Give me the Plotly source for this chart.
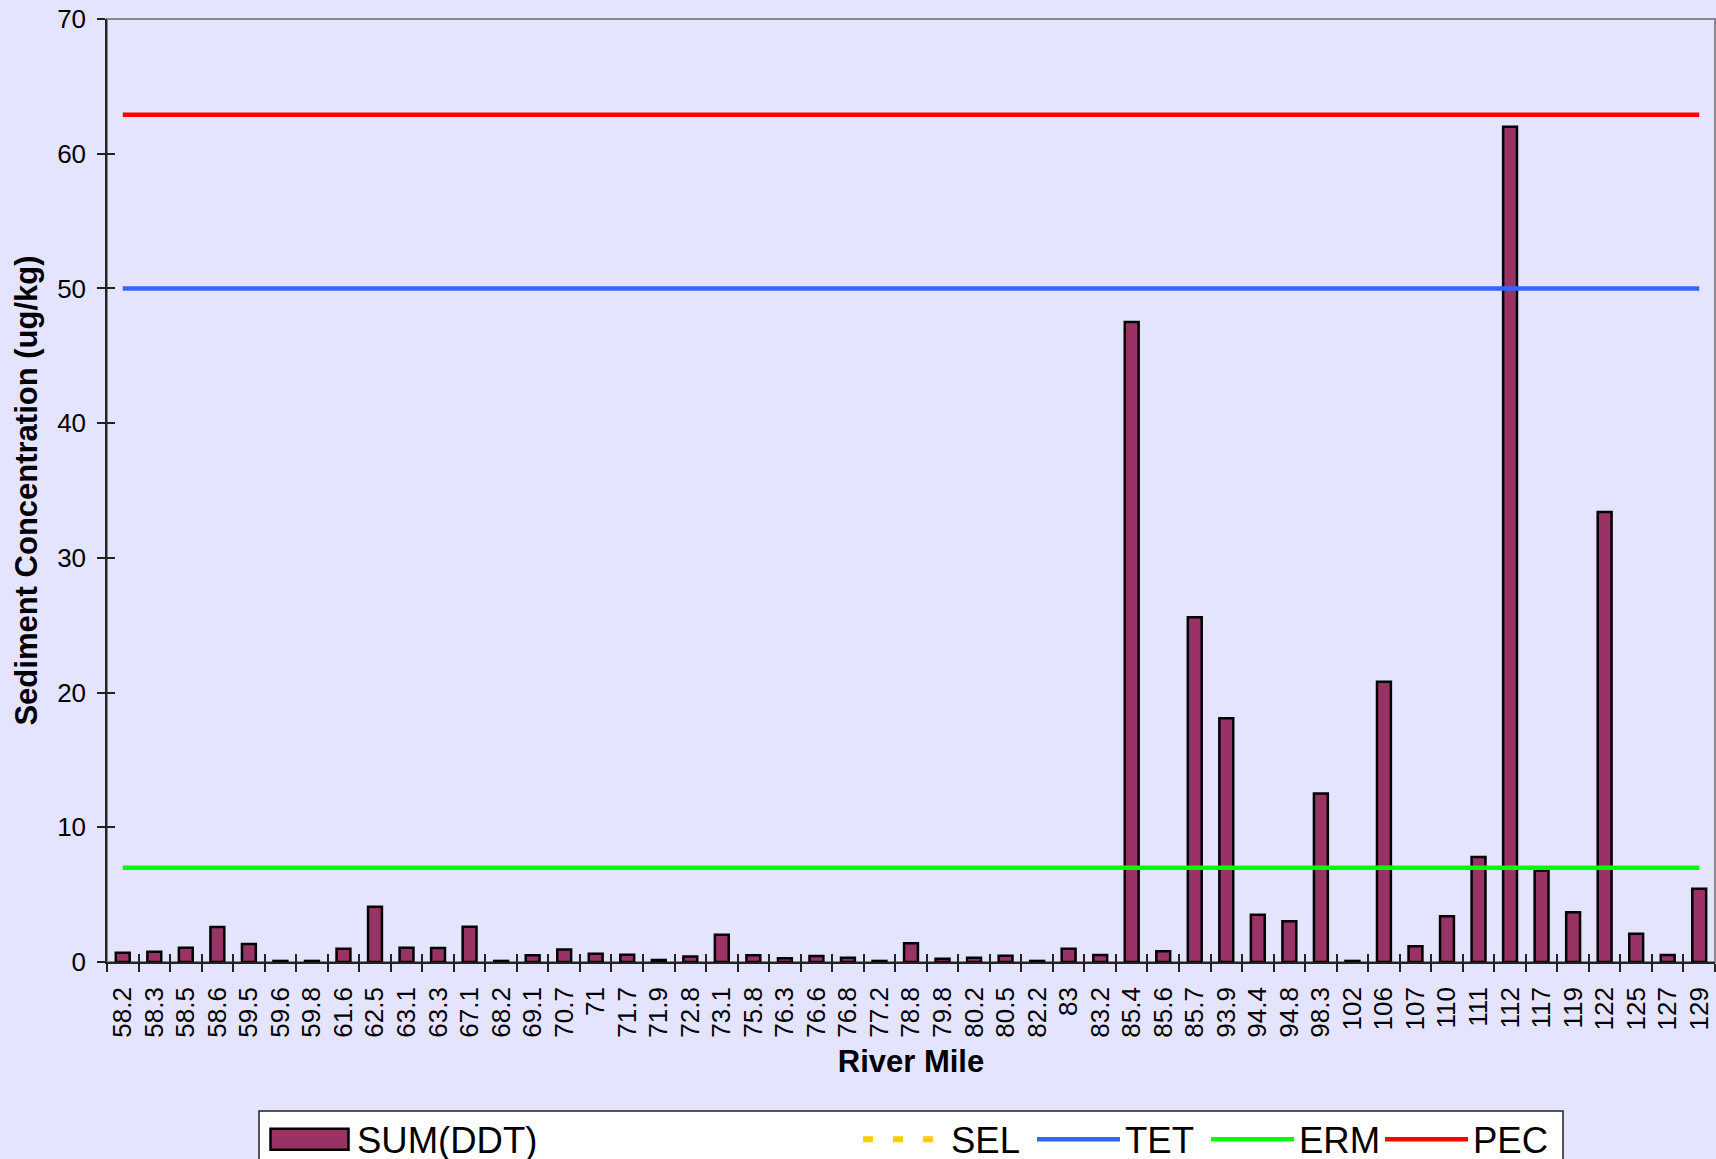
import plotly.graph_objects as go

# ---------------- data ----------------
river_mile = ["58.2", "58.3", "58.5", "58.6", "59.5", "59.6", "59.8", "61.6", "62.5", "63.1",
              "63.3", "67.1", "68.2", "69.1", "70.7", "71", "71.7", "71.9", "72.8", "73.1",
              "75.8", "76.3", "76.6", "76.8", "77.2", "78.8", "79.8", "80.2", "80.5", "82.2",
              "83", "83.2", "85.4", "85.6", "85.7", "93.9", "94.4", "94.8", "98.3", "102",
              "106", "107", "110", "111", "112", "117", "119", "122", "125", "127", "129"]

sum_ddt = [0.69, 0.77, 1.06, 2.6, 1.34, 0.08, 0.08, 0.99, 4.1, 1.06,
           1.04, 2.62, 0.08, 0.5, 0.92, 0.62, 0.54, 0.15, 0.4, 2.03,
           0.5, 0.28, 0.44, 0.32, 0.08, 1.4, 0.24, 0.32, 0.47, 0.08,
           0.99, 0.52, 47.5, 0.79, 25.6, 18.1, 3.51, 3.02, 12.5, 0.08,
           20.8, 1.16, 3.39, 7.8, 62.0, 6.8, 3.69, 33.4, 2.1, 0.52, 5.43]

# guideline values (SEL not shown within the plotted range)
SEL = None
TET = 50
ERM = 7
PEC = 62.9

y_ticks = [0, 10, 20, 30, 40, 50, 60, 70]

# ---------------- styling ----------------
FONT = "Liberation Sans, Arial, sans-serif"
BG = "#E4E4FF"
BAR = "#993366"

n = len(river_mile)
W, H = 1716, 1159
L, R, T, B = 107, 1, 19, 197

fig = go.Figure()

fig.add_trace(go.Bar(
    x=river_mile, y=sum_ddt, name="SUM(DDT)",
    marker=dict(color=BAR, line=dict(color="black", width=2.5)),
    legend="legend",
))

for name, val, color, dash, lw in [("SEL", SEL, "#FFCC00", "10px,20px", 6),
                                   ("TET", TET, "#3366FF", "solid", 4.5),
                                   ("ERM", ERM, "#00FF00", "solid", 4.5),
                                   ("PEC", PEC, "#FF0000", "solid", 4.5)]:
    fig.add_trace(go.Scatter(
        x=river_mile, y=[val] * n, name=name, mode="lines",
        line=dict(color=color, width=lw, dash=dash),
        legend="legend2",
    ))

# hidden trace to carry the overlay axes (inner half of crossing ticks)
fig.add_trace(go.Scatter(x=river_mile, y=[None] * n, xaxis="x2", yaxis="y2",
                         showlegend=False, hoverinfo="skip", mode="lines"))

pw = W - L - R
ph = H - T - B

def px_x(p):
    return (p - L) / pw

def px_y(p):
    return (H - B - p) / ph

fig.update_layout(
    width=W, height=H,
    margin=dict(l=L, r=R, t=T, b=B, autoexpand=False),
    paper_bgcolor=BG, plot_bgcolor=BG,
    font=dict(family=FONT, color="black", size=26),
    bargap=0.56,
    xaxis=dict(
        type="category", categoryorder="array", categoryarray=river_mile,
        range=[-0.5, n - 0.5], tickson="boundaries",
        ticks="outside", ticklen=8, tickwidth=1.5, tickcolor="#222",
        tickangle=-90, tickfont=dict(size=26), ticklabelstandoff=13,
        showline=True, linecolor="#222", linewidth=1.5,
        showgrid=False, zeroline=False,
        title=dict(text="<b>River Mile</b>", font=dict(size=31), standoff=14),
        automargin=False,
    ),
    xaxis2=dict(
        type="category", categoryorder="array", categoryarray=river_mile,
        range=[-0.5, n - 0.5], tickson="boundaries", overlaying="x", anchor="y",
        ticks="inside", ticklen=8, tickwidth=1.5, tickcolor="#222",
        showticklabels=False, showgrid=False, zeroline=False, showline=False,
    ),
    yaxis=dict(
        range=[0, 70], tickvals=y_ticks,
        ticks="outside", ticklen=8, tickwidth=1.5, tickcolor="#222",
        tickfont=dict(size=26), ticklabelstandoff=6,
        showline=True, linecolor="#222", linewidth=1.5,
        showgrid=False, zeroline=False,
        title=dict(text="<b>Sediment Concentration (ug/kg)</b>", font=dict(size=31), standoff=10),
        automargin=False,
    ),
    yaxis2=dict(
        range=[0, 70], tickvals=y_ticks, overlaying="y", anchor="x",
        ticks="inside", ticklen=8, tickwidth=1.5, tickcolor="#222",
        showticklabels=False, showgrid=False, zeroline=False, showline=False,
    ),
    legend=dict(
        orientation="h", x=px_x(262), y=px_y(1109), xanchor="left", yanchor="top",
        bgcolor="rgba(0,0,0,0)", borderwidth=0, font=dict(size=36.5),
        itemwidth=85,
    ),
    legend2=dict(
        orientation="h", x=px_x(858), y=px_y(1109), xanchor="left", yanchor="top",
        bgcolor="rgba(0,0,0,0)", borderwidth=0, font=dict(size=36.5),
        itemwidth=83, entrywidth=76, entrywidthmode="pixels",
    ),
    shapes=[
        # plot-area border
        dict(type="rect", xref="paper", yref="paper", x0=0, x1=1, y0=0, y1=1,
             line=dict(color="#888888", width=2), fillcolor="rgba(0,0,0,0)", layer="below"),
        # legend box
        dict(type="rect", xref="paper", yref="paper",
             x0=px_x(259), x1=px_x(1563), y0=px_y(1175), y1=px_y(1111),
             line=dict(color="#222", width=1.5), fillcolor="white", layer="below"),
    ],
)

post = """
document.body.style.margin='0';
document.body.style.background='%s';
var gd = document.getElementById('{plot_id}');
function widenSwatch(){
  var paths = gd.querySelectorAll('g.legendpoints path');
  paths.forEach(function(p){
    var d = (p.getAttribute('d') || '').replace(/\\s/g, '');
    if (d === 'M6,6H-6V-6H6Z') {
      p.setAttribute('d', 'M39,10.5H-39V-10.5H39Z');
      p.style.strokeWidth = '2.5px';
    }
  });
}
widenSwatch();
if (gd && gd.on) { gd.on('plotly_afterplot', widenSwatch); }
setTimeout(widenSwatch, 50);
setTimeout(widenSwatch, 300);
""" % BG

fig.write_html("out.html", config={"displayModeBar": False}, post_script=post)
